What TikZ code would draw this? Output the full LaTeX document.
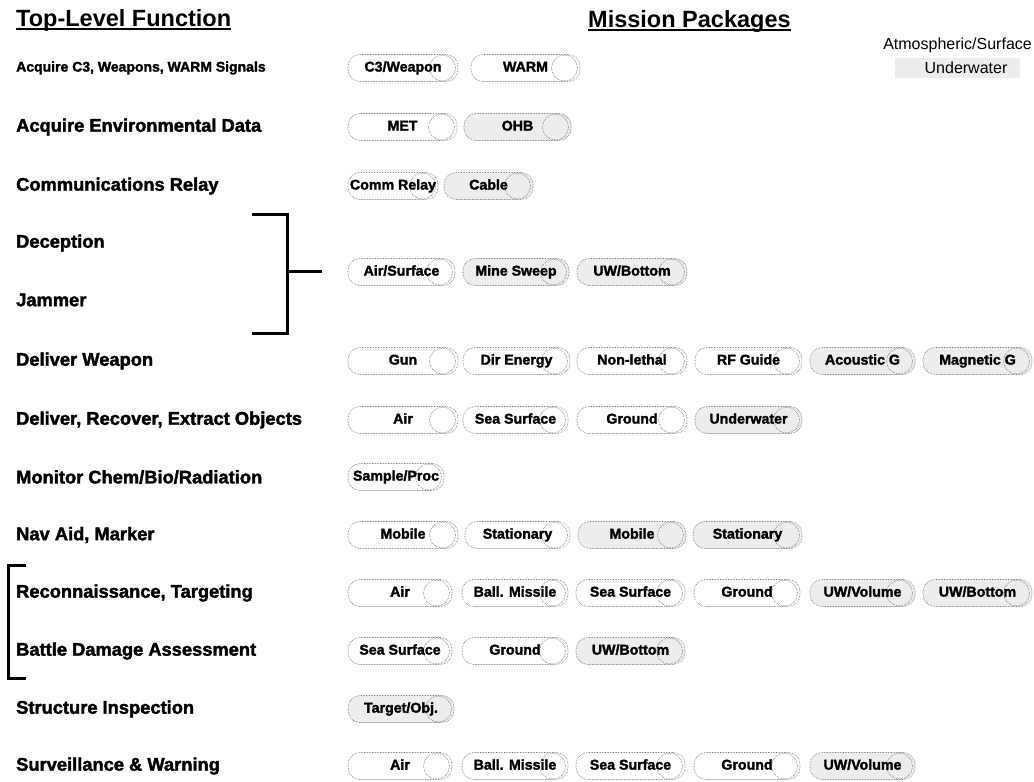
\documentclass[tikz,border=0pt]{standalone}
\usepackage{fontspec}
\setmainfont{Liberation Sans}
\newfontfamily\arialf{Liberation Sans}
\newfontfamily\heavyf{Liberation Sans}[BoldFeatures={FakeBold=2}]
\newcommand\lblfont{\heavyf\bfseries\fontsize{18.3}{20}\selectfont}
\newcommand\lblsmall{\heavyf\bfseries\fontsize{14}{16}\selectfont}
\newcommand\pillfont{\heavyf\bfseries\fontsize{14.2}{15}\selectfont}
\newcommand\headfont{\arialf\bfseries\fontsize{23.5}{26}\selectfont}
\newcommand\legfont{\arialf\fontsize{16}{18}\selectfont}
\newcommand\pill[6]{\node[pill,#1,minimum width={(#4-#3)*1pt}] (#2) at ({(#3+#4)/2},#5) {#6};}
\tikzset{
  pill/.style={draw=black!60, densely dotted, line width=0.6pt, rounded corners=12pt,
    minimum height=27pt, inner sep=0pt, text height=10pt, text depth=2.8pt,
    font=\pillfont, text=black,
    path picture={\draw[densely dotted, black!60, line width=0.6pt]
      ([xshift=-15.5pt]path picture bounding box.east) circle (13pt);}},
  uw/.style={fill=black!7},
  lbl/.style={anchor=west, inner sep=0pt, font=\lblfont},
  head/.style={anchor=base west, inner sep=0pt, font=\headfont},
  brk/.style={line width=3pt, line cap=rect},
  uline/.style={line width=1.8pt}
}
\begin{document}
\begin{tikzpicture}[x=1pt, y=-1pt]
\useasboundingbox (0,0) rectangle (1034,782);
% headers
\node[head] (h1) at (16,26) {Top-Level Function};
\node[head] (h2) at (588,27) {Mission Packages};
\draw[uline] ([yshift=-3pt]h1.base west) -- ([yshift=-3pt]h1.base east);
\draw[uline] ([yshift=-3pt]h2.base west) -- ([yshift=-3pt]h2.base east);
% legend
\node[anchor=east, inner sep=0pt, font=\legfont] (leg1) at (1032,45) {Atmospheric/Surface};
\node[fill=black!7, minimum width=125pt, minimum height=20pt, inner sep=0pt] (legbg) at (957,68) {};
\node[inner sep=0pt, font=\legfont] (leg2) at (966,68) {Underwater};
% left labels
\node[lbl, font=\lblsmall] (f1) at (16,68) {Acquire C3, Weapons, WARM Signals};
\node[lbl] (f2) at (16,127) {Acquire Environmental Data};
\node[lbl] (f3) at (16,186) {Communications Relay};
\node[lbl] (f4) at (16,243) {Deception};
\node[lbl] (f5) at (16,300) {Jammer};
\node[lbl] (f6) at (16,361) {Deliver Weapon};
\node[lbl] (f7) at (16,420) {Deliver, Recover, Extract Objects};
\node[lbl] (f8) at (16,477) {Monitor Chem/Bio/Radiation};
\node[lbl] (f9) at (16,535) {Nav Aid, Marker};
\node[lbl] (f10) at (16,593) {Reconnaissance, Targeting};
\node[lbl] (f11) at (16,651) {Battle Damage Assessment};
\node[lbl] (f12) at (16,709) {Structure Inspection};
\node[lbl] (f13) at (16,766) {Surveillance \& Warning};
% brackets
\coordinate (b1t) at (253,214);
\coordinate (b1c) at (287,214);
\coordinate (b1d) at (287,333);
\coordinate (b1b) at (253,333);
\coordinate (b1m) at (287,271);
\coordinate (b1e) at (320,271);
\draw[brk] (b1t) -- (b1c) -- (b1d) -- (b1b);
\draw[brk] (b1m) -- (b1e);
\coordinate (b2t) at (24,565);
\coordinate (b2c) at (8,565);
\coordinate (b2d) at (8,678);
\coordinate (b2b) at (24,678);
\draw[brk] (b2t) -- (b2c) -- (b2d) -- (b2b);
% row 1
\pill{}{p1a}{348}{458}{68}{C3/Weapon}
\pill{}{p1b}{471}{580}{68}{WARM}
% row 2
\pill{}{p2a}{348}{457}{127}{MET}
\pill{uw}{p2b}{464}{571}{127}{OHB}
% row 3
\pill{}{p3a}{348}{438}{186}{Comm Relay}
\pill{uw}{p3b}{444}{533}{186}{Cable}
% row 4
\pill{}{p4a}{348}{455}{272}{Air/Surface}
\pill{uw}{p4b}{463}{569}{272}{Mine Sweep}
\pill{uw}{p4c}{577}{687}{272}{UW/Bottom}
% row 6
\pill{}{p6a}{348}{458}{361}{Gun}
\pill{}{p6b}{463}{570}{361}{Dir Energy}
\pill{}{p6c}{577}{687}{361}{Non-lethal}
\pill{}{p6d}{695}{802}{361}{RF Guide}
\pill{uw}{p6e}{810}{915}{361}{Acoustic G}
\pill{uw}{p6f}{923}{1032}{361}{Magnetic G}
% row 7
\pill{}{p7a}{348}{458}{420}{Air}
\pill{}{p7b}{463}{568}{420}{Sea Surface}
\pill{}{p7c}{577}{687}{420}{Ground}
\pill{uw}{p7d}{695}{802}{420}{Underwater}
% row 8
\pill{}{p8a}{348}{444}{477}{Sample/Proc}
% row 9
\pill{}{p9a}{348}{458}{535}{Mobile}
\pill{}{p9b}{465}{570}{535}{Stationary}
\pill{uw}{p9c}{578}{686}{535}{Mobile}
\pill{uw}{p9d}{693}{802}{535}{Stationary}
% row 10
\pill{}{p10a}{348}{452}{593}{Air}
\pill{}{p10b}{462}{568}{593}{Ball. Missile}
\pill{}{p10c}{576}{685}{593}{Sea Surface}
\pill{}{p10d}{694}{800}{593}{Ground}
\pill{uw}{p10e}{810}{915}{593}{UW/Volume}
\pill{uw}{p10f}{923}{1032}{593}{UW/Bottom}
% row 11
\pill{}{p11a}{348}{452}{651}{Sea Surface}
\pill{}{p11b}{462}{568}{651}{Ground}
\pill{uw}{p11c}{576}{685}{651}{UW/Bottom}
% row 12
\pill{uw}{p12a}{348}{454}{709}{Target/Obj.}
% row 13
\pill{}{p13a}{348}{452}{766}{Air}
\pill{}{p13b}{462}{568}{766}{Ball. Missile}
\pill{}{p13c}{576}{685}{766}{Sea Surface}
\pill{}{p13d}{694}{800}{766}{Ground}
\pill{uw}{p13e}{810}{915}{766}{UW/Volume}
\end{tikzpicture}
\end{document}
